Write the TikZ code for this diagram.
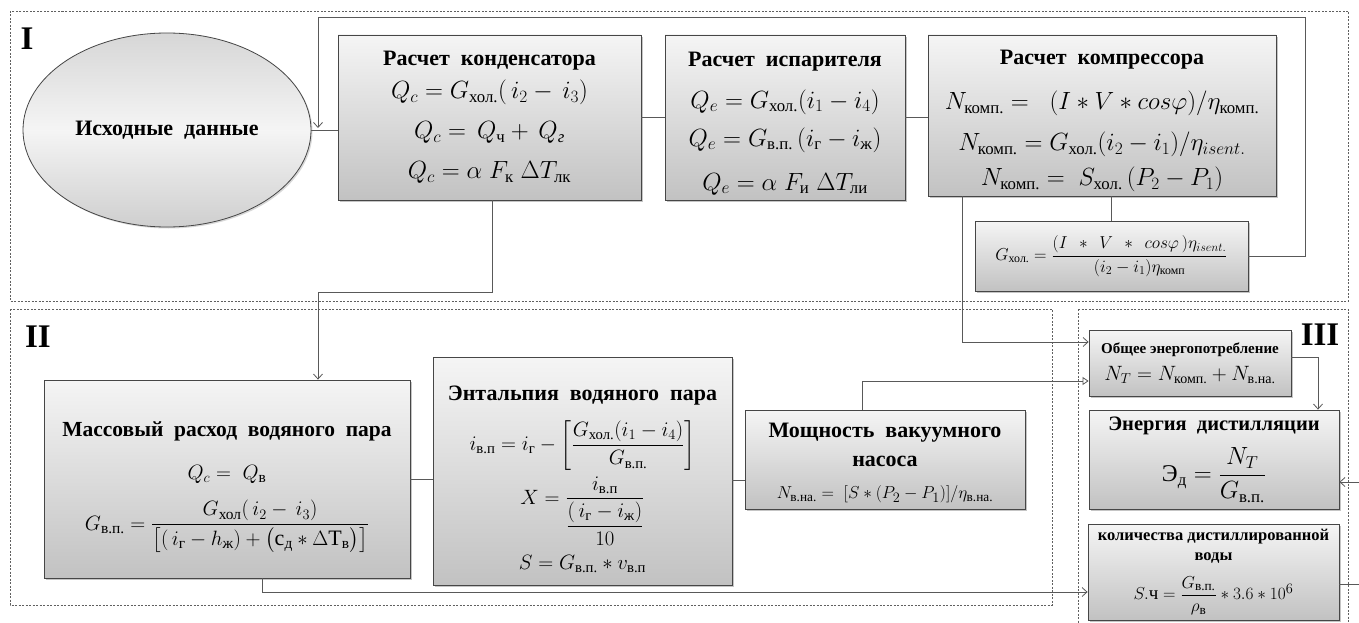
\documentclass[tikz,border=0pt]{standalone}
\usepackage{amsmath}
\usepackage{fontspec}
\setmainfont{Liberation Serif}
\usetikzlibrary{shapes.geometric,shadows,arrows.meta}
\newcommand{\ru}[1]{\text{\normalfont #1}}
\newcommand{\ttl}[1]{{\fontsize{22}{28}\selectfont\bfseries #1}}
\begin{document}
\begin{tikzpicture}[x=1pt,y=-1pt,
  box/.style={draw=gray!55!black, line width=0.8pt, top color=gray!8, bottom color=gray!48,
    drop shadow={shadow xshift=2pt,shadow yshift=-2pt,fill=black!45},
    align=center, inner sep=2pt, font=\fontsize{24}{28}\selectfont},
  conn/.style={draw=gray!70!black, line width=0.8pt},
  arr/.style={conn, -{Straight Barb[length=5pt,width=9pt]}},
  tarr/.style={conn, -{Triangle[open,length=6pt,width=8pt]}},
  region/.style={draw=gray!75!black, dash pattern=on 2pt off 1.5pt, line width=0.6pt},
  lab/.style={font=\fontsize{33}{33}\selectfont\bfseries, inner sep=0pt}]
\useasboundingbox (0,0) rectangle (1359,623);
\fill[white] (0,0) rectangle (1359,623);

% regions
\draw[region] (10,11) rectangle (1348,301);
\draw[region] (10,309) rectangle (1052,605);
\draw[region] (1078,309) -- (1348,309) -- (1348,640);
\draw[region] (1078,309) -- (1078,640);
\node[lab] (labI) at (27,39) {I};
\node[lab] (labII) at (38,337) {II};
\node[lab] (labIII) at (1320,335) {III};

% region I
\node[ellipse, draw=gray!55!black, line width=0.8pt, top color=gray!32, bottom color=gray!38, middle color=gray!8,
  drop shadow={shadow xshift=1.5pt,shadow yshift=-1.5pt,fill=black!30},
  minimum width=288pt, minimum height=194pt, inner sep=0pt,
  font=\fontsize{22}{26}\selectfont\bfseries] (ell) at (167,130) {Исходные\ \ данные};

\node[box, minimum width=303pt, minimum height=165pt] (cond) at (489.5,117.5)
 {\ttl{Расчет\ \ конденсатора}\\[5pt]
  $Q_c = G_{\ru{хол.}}(\,i_2 - \,i_3)$\\[12pt]
  $Q_c = \,Q_{\ru{ч}} + \,Q_{\ru{\itshape г}}$\\[12pt]
  $Q_c = \alpha\;F_{\ru{к}}\;\Delta T_{\ru{лк}}$};

\node[box, minimum width=240pt, minimum height=165pt] (evap) at (785,117.5)
 {\ttl{\rule{0pt}{26pt}Расчет\ \ испарителя}\\[14pt]
  $Q_e = G_{\ru{хол.}}(i_1 - i_4)$\\[10pt]
  $Q_e = G_{\ru{в.п.}}\,(i_{\ru{г}} - i_{\ru{ж}})$\\[16pt]
  $Q_e = \alpha\;F_{\ru{и}}\;\Delta T_{\ru{ли}}$};

\node[box, minimum width=348pt, minimum height=161pt] (comp) at (1102,115.5)
 {\ttl{\rule{0pt}{26pt}Расчет\ \ компрессора}\\[17pt]
  $N_{\ru{комп.}} = \;\;(I * V * cos\varphi)/\eta_{\ru{комп.}}$\\[13pt]
  $N_{\ru{комп.}} = G_{\ru{хол.}}(i_2 - i_1)/\eta_{isent.}$\\[7pt]
  $N_{\ru{комп.}} = \;S_{\ru{хол.}}\,(P_2 - P_1)$};

\node[box, minimum width=273pt, minimum height=70pt, font=\fontsize{17}{20}\selectfont] (gxol) at (1111.5,256)
 {$G_{\ru{хол.}} = \dfrac{(I\;\, * \;\,V\;\, *\;\, cos\varphi\,)\eta_{isent.}}{(i_2 - i_1)\eta_{\ru{комп}}}$};

% region II
\node[box, minimum width=366pt, minimum height=198pt, font=\fontsize{22}{28}\selectfont] (mass) at (227,479)
 {{\fontsize{21.5}{28}\selectfont\bfseries \rule{0pt}{31pt}Массовый\ \ расход\ \ водяного\ \ пара}\\[15pt]
  $Q_c = \;Q_{\ru{в}}$\\[16pt]
  $G_{\ru{в.п.}} = \dfrac{G_{\ru{хол}}(\,i_2 - \,i_3)}{\big[(\,i_{\ru{г}} - h_{\ru{ж}}) + \big(\ru{с}_{\ru{д}} * \Delta\ru{T}_{\ru{в}}\big)\big]}$};

\node[box, minimum width=299pt, minimum height=228pt, font=\fontsize{21}{25}\selectfont] (enth) at (582.5,471)
 {\ttl{\rule{0pt}{32pt}Энтальпия\ \ водяного\ \ пара}\\[14pt]
  $i_{\ru{в.п}} = i_{\ru{г}} - \left[\dfrac{G_{\ru{хол.}}(i_1 - i_4)}{G_{\ru{в.п.}}}\right]$\\[5pt]
  $X = \dfrac{i_{\ru{в.п}}}{\dfrac{(\,i_{\ru{г}} - i_{\ru{ж}})}{10}}$\\[9pt]
  $S = G_{\ru{в.п.}} * v_{\ru{в.п}}$};

\node[box, minimum width=280pt, minimum height=99pt, font=\fontsize{19}{29}\selectfont] (pump) at (885,459.5)
 {\ttl{\rule{0pt}{22pt}Мощность\ \ вакуумного}\\[0pt]
  \ttl{насоса}\\[3pt]
  $N_{\ru{в.на.}} = \;[S * (P_2 - P_1)]/\eta_{\ru{в.на.}}$};

% region III
\node[box, minimum width=202pt, minimum height=66pt, font=\fontsize{20}{24}\selectfont] (total) at (1190,363)
 {{\fontsize{15}{18}\selectfont\bfseries Общее энергопотребление}\\[3pt]
  $N_T = N_{\ru{комп.}} + N_{\ru{в.на.}}$};

\node[box, minimum width=250pt, minimum height=99pt] (energy) at (1214,459.5)
 {{\fontsize{20.5}{28}\selectfont\bfseries Энергия\ \ дистилляции}\\[12pt]
  $\ru{Э}_{\ru{д}} = \dfrac{N_T}{G_{\ru{в.п.}}}$};

\node[box, minimum width=251pt, minimum height=96pt, font=\fontsize{19}{20}\selectfont] (qty) at (1213.5,572)
 {{\fontsize{16.5}{20}\selectfont\bfseries количества дистиллированной}\\
  {\fontsize{16.5}{20}\selectfont\bfseries воды}\\[12pt]
  $S.\ru{ч} = \dfrac{G_{\ru{в.п.}}}{\rho_{\ru{в}}} * 3.6 * 10^6$};

% coordinates
\coordinate (fbR) at (1305,17);
\coordinate (fbL) at (318,17);
\coordinate (fbEnd) at (318,128);
\coordinate (m1) at (318,292);
\coordinate (m1b) at (492,292);
\coordinate (c1) at (962,342);
\coordinate (p1) at (862,381);
\coordinate (t1) at (1318,357);
\coordinate (eR) at (1359,482);
\coordinate (qR) at (1359,584);
\coordinate (mb) at (262,592);

% connectors region I
\draw[conn] (ell.east) -- (ell.east -| cond.west);
\draw[arr] (gxol.east) -| (fbR) -- (fbL) -- (fbEnd);
\draw[conn] (cond.east) -- (evap.west);
\draw[conn] (evap.east) -- (evap.east -| comp.west);
\draw[conn] (gxol.north) -- (gxol.north |- comp.south);
\draw[arr] (comp.south -| c1) -- (c1) -- (c1 -| total.west);
\draw[arr] (cond.south -| m1b) -- (m1b) -- (m1) -- (m1 |- mass.north);
% region II
\draw[conn] (mass.east) -- (mass.east -| enth.west);
\draw[conn] ([yshift=-9pt]enth.east) -- ([yshift=-9pt]enth.east -| pump.west);
\draw[tarr] (pump.north -| p1) -- (p1) -- (p1 -| total.west);
\draw[arr] (mass.south -| mb) -- (mb) -- (mb -| qty.west);
% region III
\draw[arr] (total.east |- t1) -- (t1) -- (t1 |- energy.north);
\draw[arr] (eR) -- (eR -| energy.east);
\draw[conn] (qR -| qty.east) -- (qR);
\end{tikzpicture}
\end{document}
